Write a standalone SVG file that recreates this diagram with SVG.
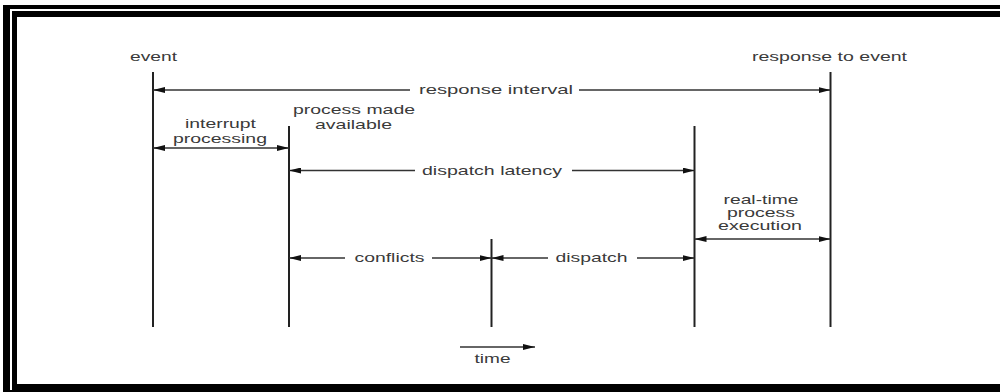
<svg xmlns="http://www.w3.org/2000/svg" width="1000" height="392" viewBox="0 0 1000 392">
<defs>
<style>
.lbl{font-family:"Liberation Sans",Arial,sans-serif;font-size:13px;fill:#3a3a3a;text-anchor:middle}
.vl{stroke:#222;stroke-width:2;fill:none}
.hl{stroke:#333;stroke-width:1.3;fill:none}
.a2{marker-start:url(#ah);marker-end:url(#ah)}
.as{marker-start:url(#ah)}
.ae{marker-end:url(#ah)}
</style>
<marker id="ah" viewBox="0 0 12 6" refX="12" refY="3" markerWidth="12" markerHeight="6" markerUnits="userSpaceOnUse" orient="auto-start-reverse">
<path d="M0,0 L12,3 L0,6 z" fill="#111"/>
</marker>
</defs>
<rect x="0" y="0" width="1000" height="392" fill="#fff"/>
<g id="frame">
<rect x="3" y="5" width="1000" height="392" fill="#000"/>
<path d="M1000,10 H11 V390" stroke="#fff" stroke-width="2" fill="none"/>
<rect x="17" y="17" width="990" height="367" fill="#fff"/>
</g>
<g id="timelines">
<line id="t-event" class="vl" x1="153" y1="72" x2="153" y2="327"/>
<line id="t-available" class="vl" x1="289" y1="126" x2="289" y2="327"/>
<line id="t-mid" class="vl" x1="491.5" y1="239" x2="491.5" y2="327"/>
<line id="t-dispatch" class="vl" x1="694.5" y1="126" x2="694.5" y2="327"/>
<line id="t-response" class="vl" x1="830.5" y1="72" x2="830.5" y2="327"/>
</g>
<g id="connectors">
<line class="hl as" x1="153" y1="90" x2="410" y2="90"/>
<line class="hl ae" x1="579" y1="90" x2="830.5" y2="90"/>
<line class="hl a2" x1="153" y1="148" x2="289" y2="148"/>
<line class="hl as" x1="289" y1="170.5" x2="415" y2="170.5"/>
<line class="hl ae" x1="572" y1="170.5" x2="694.5" y2="170.5"/>
<line class="hl a2" x1="694.5" y1="239" x2="830.5" y2="239"/>
<line class="hl as" x1="289" y1="258" x2="345" y2="258"/>
<line class="hl ae" x1="432" y1="258" x2="491.5" y2="258"/>
<line class="hl as" x1="491.5" y1="258" x2="548" y2="258"/>
<line class="hl ae" x1="637" y1="258" x2="694.5" y2="258"/>
<line class="hl ae" x1="460" y1="347" x2="535" y2="347"/>
</g>
<g id="labels">
<g id="event"><text class="lbl" x="153.5" y="61" textLength="47" lengthAdjust="spacingAndGlyphs">event</text></g>
<g id="response-to-event"><text class="lbl" x="829.5" y="61" textLength="155" lengthAdjust="spacingAndGlyphs">response to event</text></g>
<g id="response-interval"><text class="lbl" x="496" y="94" textLength="154" lengthAdjust="spacingAndGlyphs">response interval</text></g>
<g id="interrupt-processing">
<text class="lbl" x="220.5" y="128" textLength="71" lengthAdjust="spacingAndGlyphs">interrupt</text>
<text class="lbl" x="220" y="142.5" textLength="94" lengthAdjust="spacingAndGlyphs">processing</text>
</g>
<g id="process-made-available">
<text class="lbl" x="354" y="114" textLength="122" lengthAdjust="spacingAndGlyphs">process made</text>
<text class="lbl" x="353.5" y="128.5" textLength="77" lengthAdjust="spacingAndGlyphs">available</text>
</g>
<g id="dispatch-latency"><text class="lbl" x="492" y="174.5" textLength="140" lengthAdjust="spacingAndGlyphs">dispatch latency</text></g>
<g id="real-time-execution">
<text class="lbl" x="761" y="203.5" textLength="75" lengthAdjust="spacingAndGlyphs">real-time</text>
<text class="lbl" x="761" y="216.5" textLength="68" lengthAdjust="spacingAndGlyphs">process</text>
<text class="lbl" x="760" y="229.5" textLength="84" lengthAdjust="spacingAndGlyphs">execution</text>
</g>
<g id="conflicts"><text class="lbl" x="389.5" y="262.3" textLength="70" lengthAdjust="spacingAndGlyphs">conflicts</text></g>
<g id="dispatch"><text class="lbl" x="591.5" y="262.3" textLength="72" lengthAdjust="spacingAndGlyphs">dispatch</text></g>
<g id="time"><text class="lbl" x="492.5" y="362.5" textLength="36" lengthAdjust="spacingAndGlyphs">time</text></g>
</g>
</svg>
